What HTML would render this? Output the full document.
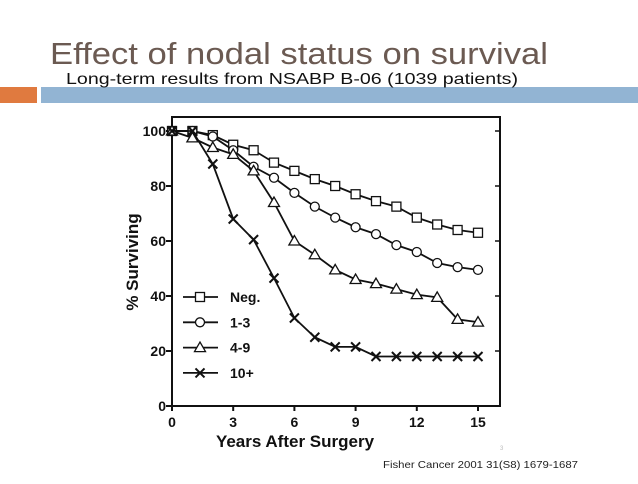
<!DOCTYPE html>
<html><head><meta charset="utf-8"><style>
html,body{margin:0;padding:0;background:#fff;}
body{width:638px;height:479px;position:relative;overflow:hidden;font-family:"Liberation Sans",sans-serif;}
</style></head><body>
<svg width="638" height="479" xmlns="http://www.w3.org/2000/svg">
<text x="50" y="64" font-size="31" fill="#6b5a52" textLength="498" lengthAdjust="spacingAndGlyphs" font-family="Liberation Sans, sans-serif">Effect of nodal status on survival</text>
<rect x="0" y="87" width="37" height="16" fill="#e07a3f"/>
<rect x="41" y="87" width="597" height="16" fill="#92b4d3"/>
<text x="66" y="84" font-size="16" fill="#111" textLength="452" lengthAdjust="spacingAndGlyphs">Long-term results from NSABP B-06 (1039 patients)</text>
<g id="chart"></g>
<text x="383" y="468" font-size="10.5" fill="#222" textLength="195" lengthAdjust="spacingAndGlyphs">Fisher Cancer 2001 31(S8) 1679-1687</text>
<text x="500" y="450" font-size="6" fill="#bbb">3</text>
</svg>
<script>
const years=[0,1,2,3,4,5,6,7,8,9,10,11,12,13,14,15];
const negValues=[100,100,98.5,95,93,88.5,85.5,82.5,80,77,74.5,72.5,68.5,66,64,63];
const n13Values=[100,100,98,93,87,83,77.5,72.5,68.5,65,62.5,58.5,56,52,50.5,49.5];
const n49Values=[100,97.5,94,91.5,85.5,74,60,55,49.5,46,44.5,42.5,40.5,39.5,31.5,30.5];
const n10Values=[100,100,88,68,60.5,46.5,32,25,21.5,21.5,18,18,18,18,18,18];
const seriesNames=["Neg.","1-3","4-9","10+"];
const xTicks=[0,3,6,9,12,15];
const yTicks=[0,20,40,60,80,100];
const NS="http://www.w3.org/2000/svg";
const g=document.getElementById('chart');
const X0=172,XS=20.4,Y0=406,YS=2.75,RIGHT=500,TOP=117;
const xs=v=>X0+v*XS, ys=v=>Y0-v*YS;
function mk(t,a,p){const e=document.createElementNS(NS,t);for(const k in a)e.setAttribute(k,a[k]);(p||g).appendChild(e);return e;}
const frame=mk('rect',{x:X0,y:TOP,width:RIGHT-X0,height:Y0-TOP,fill:'none',stroke:'#111','stroke-width':2});


yTicks.forEach(v=>{
  const t=mk('line',{x1:X0-6,x2:X0,y1:ys(v),y2:ys(v),stroke:'#111','stroke-width':2});
  
  
  const r=mk('line',{x1:RIGHT-5,x2:RIGHT,y1:ys(v),y2:ys(v),stroke:'#111','stroke-width':1.5});
  
  
  const l=mk('text',{x:X0-6,y:ys(v)+5,'text-anchor':'end','font-size':14,'font-weight':'bold',fill:'#111'});
  l.textContent=v;
  
  
});
xTicks.forEach(v=>{
  const t=mk('line',{x1:xs(v),x2:xs(v),y1:Y0,y2:Y0+5,stroke:'#111','stroke-width':2});
  
  
  const l=mk('text',{x:xs(v),y:427,'text-anchor':'middle','font-size':14,'font-weight':'bold',fill:'#111'});
  l.textContent=v;
  
  
});
const xt=mk('text',{x:295,y:447,'text-anchor':'middle','font-size':17,'font-weight':'bold',fill:'#111'});
xt.textContent='Years After Surgery';


const yt=mk('text',{x:0,y:0,'text-anchor':'middle','font-size':17,'font-weight':'bold',fill:'#111',transform:'translate(138,262) rotate(-90)'});
yt.textContent='% Surviving';


function marker(type,x,y,p){
  const s={stroke:'#111','stroke-width':1.3,fill:'#fff'};
  let e;
  if(type==0)e=mk('rect',Object.assign({x:x-4.5,y:y-4.5,width:9,height:9},s),p);
  else if(type==1)e=mk('circle',Object.assign({cx:x,cy:y,r:4.5},s),p);
  else if(type==2)e=mk('polygon',Object.assign({points:`${x},${y-5.5} ${x-5.5},${y+4} ${x+5.5},${y+4}`},s),p);
  else e=mk('path',{d:`M${x-4.5} ${y-4.5}L${x+4.5} ${y+4.5}M${x+4.5} ${y-4.5}L${x-4.5} ${y+4.5}`,stroke:'#111','stroke-width':2},p);
  return e;
}
const allSeries=[negValues,n13Values,n49Values,n10Values];
allSeries.forEach((vals,i)=>{
  const sg=mk('g',{});
  
  
  const pl=mk('polyline',{points:vals.map((v,j)=>xs(years[j])+','+ys(v)).join(' '),fill:'none',stroke:'#111','stroke-width':1.8},sg);
  
  
  vals.forEach((v,j)=>{
    const m=marker(i,xs(years[j]),ys(v),sg);
    
    
  });
  const ly=297+i*25.3;
  const lg=mk('g',{});
  
  
  mk('line',{x1:183,x2:218,y1:ly,y2:ly,stroke:'#111','stroke-width':1.8},lg);
  marker(i,200,ly,lg);
  const lt=mk('text',{x:230,y:ly+5,'font-size':14,'font-weight':'bold',fill:'#111'},lg);
  lt.textContent=seriesNames[i];
});
</script>
</body></html>
